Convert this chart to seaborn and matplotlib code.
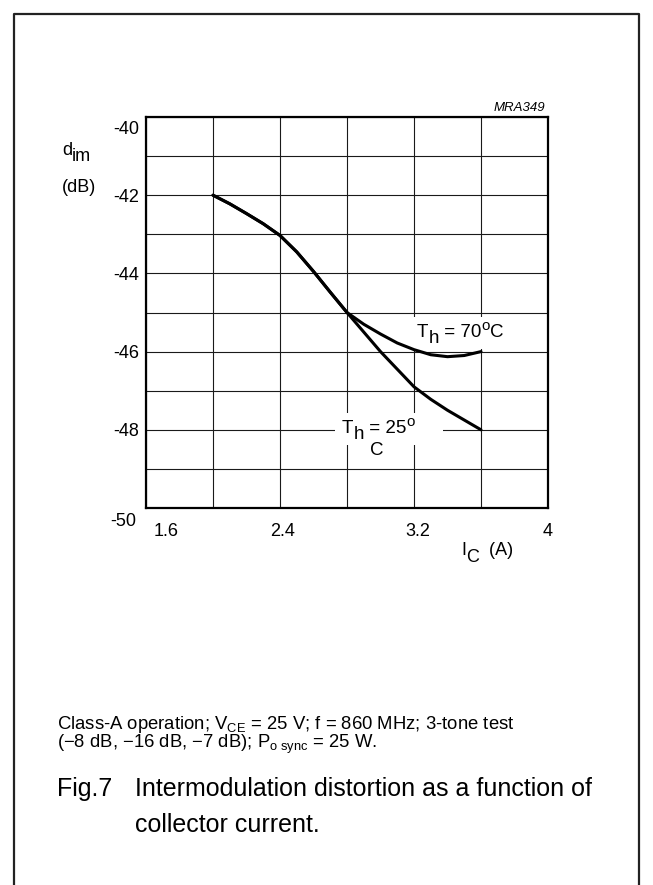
import numpy as np
import pandas as pd
import seaborn as sns
import matplotlib.pyplot as plt
from matplotlib.lines import Line2D
from matplotlib.transforms import ScaledTranslation

# ---------------- data ----------------
ic_25 = [2.0, 2.1, 2.2, 2.3, 2.4, 2.5, 2.6, 2.7, 2.8, 2.9, 3.0, 3.1, 3.2, 3.3, 3.4, 3.5, 3.6]
dim_25 = [-42.0, -42.22, -42.47, -42.73, -43.03, -43.45, -43.95, -44.48, -45.0,
          -45.5, -46.0, -46.45, -46.9, -47.22, -47.5, -47.75, -48.0]
ic_70 = [2.0, 2.1, 2.2, 2.3, 2.4, 2.5, 2.6, 2.7, 2.8, 2.9, 3.0, 3.1, 3.2, 3.3, 3.4, 3.5, 3.6]
dim_70 = [-42.0, -42.22, -42.47, -42.73, -43.03, -43.45, -43.95, -44.48, -45.0,
          -45.3, -45.55, -45.78, -45.95, -46.08, -46.13, -46.1, -46.0]

x_ticks = [1.6, 2.0, 2.4, 2.8, 3.2, 3.6, 4.0]
x_tick_labels = ["1.6", "", "2.4", "", "3.2", "", "4"]
y_ticks = [-50, -49, -48, -47, -46, -45, -44, -43, -42, -41, -40]
y_tick_labels = ["-50", "", "-48", "", "-46", "", "-44", "", "-42", "", "-40"]

note_line1 = r"Class-A operation; V$_{\rm CE}$ = 25 V; f = 860 MHz; 3-tone test"
note_line2 = r"(−8 dB, −16 dB, −7 dB); P$_{\rm o\ sync}$ = 25 W."
fig_no = "Fig.7"
caption1 = "Intermodulation distortion as a function of"
caption2 = "collector current."

# ---------------- style ----------------
sns.set_style("white")
plt.rcParams["font.family"] = ["Liberation Sans", "DejaVu Sans"]
plt.rcParams["mathtext.fontset"] = "custom"
plt.rcParams["mathtext.rm"] = "Liberation Sans"
plt.rcParams["mathtext.it"] = "Liberation Sans:italic"
plt.rcParams["mathtext.bf"] = "Liberation Sans:bold"
for k in ["text.color", "axes.labelcolor", "xtick.color", "ytick.color"]:
    plt.rcParams[k] = "black"

W, H = 653, 885
fig = plt.figure(figsize=(W / 100, H / 100), dpi=100)
fig.patch.set_facecolor("white")

L, R, T, B = 146, 548, 117, 508
ax = fig.add_axes([L / W, 1 - B / H, (R - L) / W, (B - T) / H])

df = pd.concat([
    pd.DataFrame({"Ic": ic_70, "dim": dim_70, "Th": "70"}),
    pd.DataFrame({"Ic": ic_25, "dim": dim_25, "Th": "25"}),
], ignore_index=True)

sns.lineplot(data=df, x="Ic", y="dim", hue="Th", palette={"70": "black", "25": "black"},
             estimator=None, sort=False, legend=False, linewidth=2.2, ax=ax, zorder=3)

ax.set_xlim(1.6, 4.0)
ax.set_ylim(-50, -40)
ax.set_xticks(x_ticks)
ax.set_xticklabels(x_tick_labels)
ax.set_yticks(y_ticks)
ax.set_yticklabels(y_tick_labels)
ax.grid(True, color="#1a1a1a", linewidth=0.8)
ax.set_axisbelow(True)
ax.tick_params(length=0, labelsize=13, colors="black")
ax.tick_params(axis="y", pad=5)
ax.tick_params(axis="x", pad=11)
ax.set_xlabel("")
ax.set_ylabel("")
for s in ax.spines.values():
    s.set_linewidth(1.6)
    s.set_color("black")

# tick-label nudges (pixels at 100 dpi)
y_off = {"-40": (0, -10), "-50": (-3, -12)}
for lab in ax.get_yticklabels():
    dx, dy = y_off.get(lab.get_text(), (0, 0))
    lab.set_transform(lab.get_transform() + ScaledTranslation(dx / 100, dy / 100, fig.dpi_scale_trans))
x_off = {"1.6": 20, "2.4": 3, "3.2": 4, "4": 0}
for lab in ax.get_xticklabels():
    dx = x_off.get(lab.get_text(), 0)
    lab.set_transform(lab.get_transform() + ScaledTranslation(dx / 100, 0, fig.dpi_scale_trans))


def px2data(px, py):
    return (1.6 + (px - L) / (R - L) * 2.4, -40 - (py - T) / (B - T) * 10)


def rich(x, y, parts, size, transform, zorder=4):
    """parts: list of (text, dy_points, scale)"""
    first = ax.text(x, y, parts[0][0], fontsize=size * parts[0][2], transform=transform,
                    va="baseline", ha="left", zorder=zorder, clip_on=False)
    prev, prev_dy = first, parts[0][1]
    for s, dy, sc in parts[1:]:
        prev = ax.annotate(s, xy=(1, 0), xycoords=prev, xytext=(0, dy - prev_dy),
                           textcoords="offset points", fontsize=size * sc, va="bottom",
                           ha="left", zorder=zorder, annotation_clip=False)
        prev_dy = dy
    return first


# curve labels with white background
x70, y70 = px2data(417, 337)
ax.text(x70, y70, "Th = 70oC", color="none", fontsize=13.5, va="baseline",
        bbox=dict(facecolor="white", edgecolor="none", boxstyle="square,pad=0.4"), zorder=2.5)
rich(x70, y70, [("T", 0, 1), ("h", -4.3, 1), (" = 70", 0, 1), ("o", 5.5, 0.8), ("C", 0, 1)],
     13.5, ax.transData)

x25, y25 = px2data(342, 433)
ax.text(x25, y25, "Th = 25oC ", color="none", fontsize=13.5, va="baseline",
        bbox=dict(facecolor="white", edgecolor="none", boxstyle="square,pad=0.4"), zorder=2.5)
rich(x25, y25, [("T", 0, 1), ("h", -4.3, 1), (" = 25", 0, 1), ("o", 5.5, 0.8)],
     13.5, ax.transData)
xc, yc = px2data(370, 455)
ax.text(xc, yc, "C", fontsize=13.5, va="baseline", ha="left", zorder=4)

# axis labels
rich(62 / W, 1 - 155 / H, [("d", 0, 1), ("im", -4.5, 1)], 13, fig.transFigure)
fig.text(62 / W, 1 - 192 / H, "(dB)", fontsize=13, va="baseline", ha="left")
rich(461 / W, 1 - 555 / H, [("I", 0, 1), ("C", -5, 1), ("  (A)", 0, 1)], 13, fig.transFigure)

ax.annotate("MRA349", xy=(1, 1), xycoords="axes fraction", xytext=(-2, 2),
            textcoords="offset points", ha="right", va="bottom", style="italic", fontsize=9.5)

# notes and caption
fig.text(57 / W, 1 - 729 / H, note_line1, fontsize=13.3, va="baseline", ha="left")
fig.text(57 / W, 1 - 748 / H, note_line2, fontsize=13.3, va="baseline", ha="left")
fig.text(57 / W, 1 - 796 / H, fig_no, fontsize=18, va="baseline", ha="left")
fig.text(135 / W, 1 - 796 / H, caption1, fontsize=18, va="baseline", ha="left")
fig.text(135 / W, 1 - 832 / H, caption2, fontsize=18, va="baseline", ha="left")

# page frame (open at bottom)
fx0, fx1, fy1 = 14 / W, 639 / W, 1 - 14 / H
fig.add_artist(Line2D([fx0, fx0, fx1, fx1], [-0.02, fy1, fy1, -0.02],
                      transform=fig.transFigure, color="#222222", linewidth=1.6))

fig.savefig("out.png", dpi=100, facecolor="white")
